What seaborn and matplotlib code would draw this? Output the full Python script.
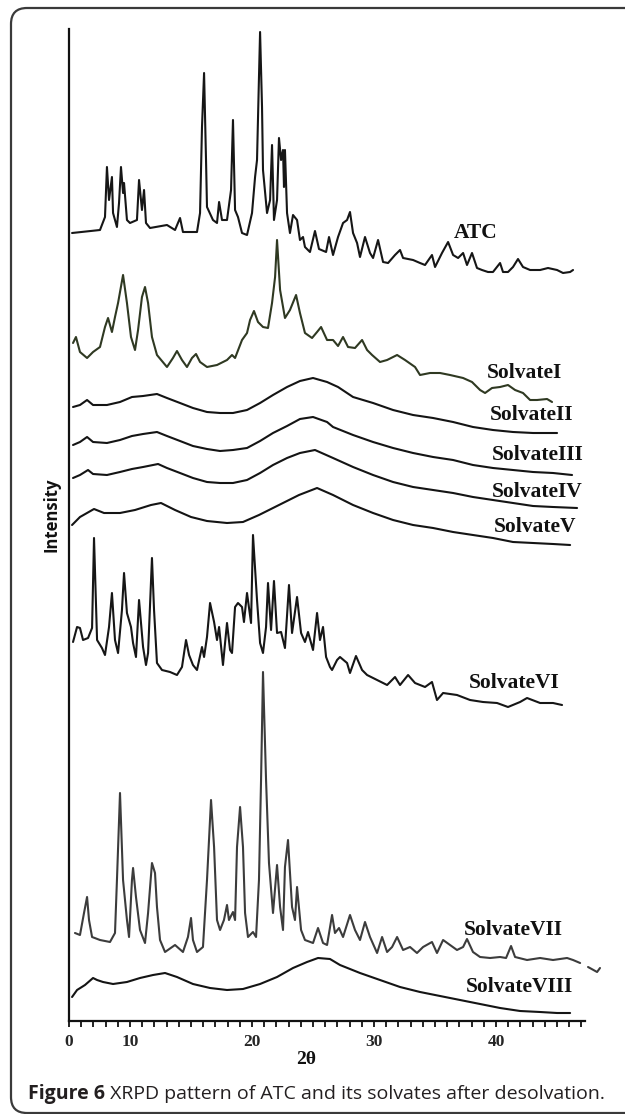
import numpy as np
import pandas as pd
import matplotlib.pyplot as plt
import seaborn as sns
from matplotlib.patches import FancyBboxPatch
from matplotlib.ticker import FixedLocator
from matplotlib.transforms import IdentityTransform


# XRPD traces: 2-theta (deg) and intensity (a.u.)
ATC_THETA = [5.25, 7.54, 7.95, 8.11, 8.28, 8.52, 8.61, 8.93, 9.10, 9.26,
             9.43, 9.51, 9.75, 10.0, 10.57, 10.74, 10.98, 11.15, 11.31, 11.64,
             13.03, 13.69, 14.10, 14.34, 15.49, 15.74, 15.90, 16.07, 16.23, 16.31,
             16.80, 17.13, 17.30, 17.54, 17.95, 18.28, 18.44, 18.61, 18.85, 19.18,
             19.59, 20.0, 20.25, 20.41, 20.57, 20.66, 20.82, 20.90, 21.23, 21.48,
             21.64, 21.80, 22.05, 22.21, 22.38, 22.54, 22.62, 22.70, 22.87, 23.11,
             23.36, 23.69, 23.93, 24.18, 24.34, 24.75, 25.16, 25.49, 26.07, 26.31,
             26.64, 27.05, 27.46, 27.79, 28.03, 28.28, 28.61, 28.85, 29.26, 29.67,
             29.92, 30.33, 30.74, 31.15, 31.72, 32.13, 32.38, 33.20, 33.77, 34.18,
             34.75, 35.0, 35.57, 36.07, 36.48, 36.89, 37.30, 37.62, 38.03, 38.44,
             38.85, 39.34, 39.75, 40.33, 40.57, 40.98, 41.39, 41.80, 42.21, 42.79,
             43.61, 44.26, 45.0, 45.49, 46.07, 46.31]
ATC_INT = [42, 45, 58, 108, 75, 98, 62, 48, 72, 108,
           82, 92, 55, 52, 55, 95, 65, 85, 52, 47,
           50, 45, 57, 43, 43, 62, 148, 202, 115, 68,
           55, 52, 73, 55, 55, 85, 155, 65, 58, 42,
           40, 62, 98, 115, 198, 243, 168, 105, 62, 75,
           130, 55, 75, 137, 115, 125, 88, 125, 62, 42,
           60, 55, 35, 38, 28, 23, 44, 26, 23, 38,
           20, 38, 52, 55, 63, 42, 32, 18, 38, 22,
           17, 35, 13, 12, 20, 25, 17, 15, 12, 10,
           20, 8, 22, 33, 20, 17, 22, 10, 22, 7,
           5, 3, 3, 12, 3, 3, 8, 16, 8, 5,
           5, 7, 5, 2, 3, 5]

S1_THETA = [5.33, 5.57, 5.90, 6.48, 6.97, 7.54, 7.95, 8.20, 8.52, 8.77,
            9.02, 9.43, 9.75, 10.08, 10.41, 10.66, 10.98, 11.23, 11.48, 11.80,
            12.21, 13.03, 13.52, 13.85, 14.26, 14.67, 15.08, 15.41, 15.74, 16.31,
            17.13, 17.95, 18.36, 18.61, 19.18, 19.59, 19.84, 20.16, 20.49, 20.90,
            21.31, 21.64, 21.89, 22.05, 22.30, 22.70, 23.11, 23.61, 23.93, 24.34,
            24.92, 25.33, 25.66, 26.15, 26.64, 27.05, 27.46, 27.87, 28.44, 29.02,
            29.43, 29.84, 30.49, 31.07, 31.89, 32.54, 33.36, 33.77, 34.59, 35.41,
            36.23, 37.30, 38.03, 38.69, 39.10, 39.67, 40.33, 40.98, 41.56, 42.21,
            42.79, 43.36, 44.18, 44.59]
S1_INT = [62, 68, 53, 47, 53, 58, 78, 87, 73, 88,
          102, 130, 102, 68, 55, 75, 108, 118, 102, 68,
          50, 38, 47, 54, 45, 38, 47, 51, 43, 38,
          40, 45, 50, 47, 65, 72, 85, 94, 83, 78,
          77, 102, 128, 165, 115, 87, 95, 110, 92, 72,
          67, 73, 78, 65, 65, 59, 68, 58, 57, 65,
          55, 50, 43, 45, 50, 45, 38, 30, 32, 32,
          30, 27, 23, 15, 12, 17, 18, 20, 15, 12,
          5, 5, 6, 3]

S2_THETA = [5.33, 5.90, 6.48, 6.97, 8.11, 9.18, 10.16, 11.07, 12.21, 13.03,
            14.10, 15.16, 16.31, 17.38, 18.44, 19.59, 20.66, 21.72, 22.87, 23.93,
            25.0, 26.15, 27.05, 28.28, 29.92, 31.56, 33.20, 34.84, 36.48, 38.11,
            39.75, 41.39, 43.03, 45.0]
S2_INT = [28, 30, 35, 30, 30, 33, 38, 39, 41, 37,
          32, 27, 23, 22, 22, 25, 32, 40, 48, 54,
          57, 53, 48, 38, 32, 25, 20, 17, 13, 8,
          5, 3, 2, 2]

S3_THETA = [5.33, 5.90, 6.48, 6.97, 8.11, 9.18, 10.16, 11.07, 12.21, 13.03,
            14.10, 15.16, 16.31, 17.38, 18.44, 19.59, 20.66, 21.72, 22.87, 23.93,
            25.0, 26.15, 26.64, 28.28, 29.92, 31.56, 33.20, 34.84, 36.48, 38.11,
            39.75, 41.39, 43.03, 44.67, 46.23]
S3_INT = [32, 35, 40, 35, 34, 37, 41, 43, 45, 41,
          36, 31, 28, 26, 27, 29, 36, 44, 51, 58,
          60, 55, 50, 42, 35, 29, 24, 20, 17, 12,
          9, 7, 5, 4, 2]

S4_THETA = [5.33, 5.90, 6.56, 6.97, 8.11, 9.18, 10.16, 11.07, 12.30, 13.03,
            14.10, 15.16, 16.31, 17.38, 18.44, 19.59, 20.66, 21.72, 22.87, 23.93,
            25.16, 26.64, 28.28, 29.92, 31.56, 33.20, 34.84, 36.48, 38.11, 39.75,
            41.39, 43.03, 44.67, 46.64]
S4_INT = [32, 35, 40, 36, 35, 38, 41, 43, 46, 42,
          37, 32, 28, 27, 27, 30, 37, 45, 52, 57,
          60, 52, 43, 35, 28, 23, 20, 17, 13, 10,
          7, 4, 3, 2]

S5_THETA = [5.25, 5.90, 7.05, 7.87, 9.18, 10.41, 11.72, 12.54, 13.69, 15.0,
            16.31, 17.95, 19.26, 20.57, 22.21, 23.85, 25.33, 26.64, 28.28, 29.92,
            31.56, 33.20, 34.84, 36.48, 38.11, 39.75, 41.39, 43.03, 44.67, 46.07]
S5_INT = [22, 30, 38, 34, 34, 37, 42, 44, 37, 30,
          26, 24, 25, 32, 42, 52, 59, 52, 42, 34,
          27, 22, 19, 15, 12, 9, 5, 4, 3, 2]

S6_THETA = [5.33, 5.66, 5.90, 6.15, 6.56, 6.89, 7.05, 7.30, 7.70, 7.95,
            8.28, 8.52, 8.77, 9.02, 9.34, 9.51, 9.75, 10.08, 10.25, 10.49,
            10.74, 11.07, 11.31, 11.48, 11.80, 11.97, 12.21, 12.62, 13.28, 13.85,
            14.26, 14.59, 14.84, 15.16, 15.49, 15.90, 16.07, 16.31, 16.56, 16.89,
            17.13, 17.30, 17.62, 17.79, 17.95, 18.20, 18.36, 18.61, 18.85, 19.18,
            19.34, 19.59, 19.92, 20.08, 20.41, 20.66, 20.90, 21.15, 21.31, 21.56,
            21.80, 22.05, 22.38, 22.70, 23.03, 23.28, 23.69, 24.02, 24.34, 24.59,
            25.0, 25.33, 25.57, 25.82, 26.07, 26.39, 26.56, 26.97, 27.21, 27.79,
            28.03, 28.52, 29.02, 29.43, 30.25, 31.07, 31.72, 32.13, 32.79, 33.36,
            34.18, 34.75, 35.16, 35.66, 36.80, 37.87, 38.93, 40.08, 40.98, 41.97,
            42.54, 43.61, 44.67, 45.41]
S6_INT = [68, 83, 82, 70, 72, 82, 172, 70, 62, 55,
          83, 117, 70, 57, 100, 137, 97, 83, 67, 53,
          110, 63, 45, 57, 152, 100, 47, 40, 38, 35,
          43, 70, 55, 45, 40, 63, 53, 73, 107, 88,
          70, 83, 45, 67, 87, 60, 57, 103, 107, 103,
          88, 117, 87, 175, 110, 67, 57, 83, 127, 80,
          129, 77, 78, 62, 125, 77, 113, 77, 68, 78,
          60, 97, 70, 83, 53, 43, 40, 50, 53, 47,
          37, 54, 40, 35, 30, 25, 33, 25, 35, 27,
          23, 28, 10, 17, 15, 10, 8, 7, 3, 8,
          12, 7, 7, 5]

S7_THETA = [5.49, 5.90, 6.23, 6.48, 6.64, 6.89, 7.54, 8.36, 8.77, 8.93,
            9.18, 9.43, 9.51, 9.75, 9.92, 10.16, 10.25, 10.49, 10.82, 11.23,
            11.48, 11.80, 12.05, 12.21, 12.46, 12.87, 13.69, 14.34, 14.75, 15.0,
            15.16, 15.49, 15.98, 16.31, 16.64, 16.89, 17.13, 17.38, 17.70, 17.95,
            18.11, 18.44, 18.61, 18.77, 19.02, 19.26, 19.43, 19.67, 20.08, 20.33,
            20.57, 20.74, 20.90, 21.15, 21.39, 21.72, 22.05, 22.30, 22.54, 22.70,
            22.95, 23.28, 23.52, 23.69, 24.02, 24.34, 25.0, 25.41, 25.82, 26.15,
            26.56, 26.80, 27.13, 27.46, 28.03, 28.44, 28.85, 29.26, 29.67, 30.25,
            30.66, 31.07, 31.48, 31.89, 32.38, 32.95, 33.52, 34.02, 34.75, 35.16,
            35.66, 36.23, 36.80, 37.30, 37.62, 38.11, 38.69, 39.51, 40.33, 40.82,
            41.23, 41.56, 42.54, 43.61, 44.67, 45.82, 46.31, 46.89, np.nan, 47.54,
            48.28, 48.52]
S7_INT = [42, 40, 62, 78, 55, 38, 35, 33, 42, 95,
          182, 95, 85, 55, 38, 95, 107, 78, 45, 32,
          62, 112, 102, 68, 35, 23, 30, 23, 38, 57,
          35, 23, 28, 95, 175, 128, 55, 45, 55, 70,
          55, 63, 55, 128, 168, 128, 62, 38, 43, 38,
          95, 195, 303, 195, 112, 62, 110, 68, 45, 108,
          135, 68, 55, 88, 45, 35, 32, 47, 32, 30,
          60, 42, 47, 38, 60, 45, 35, 53, 38, 22,
          38, 23, 28, 38, 25, 28, 22, 28, 33, 22,
          35, 30, 25, 28, 36, 23, 18, 17, 18, 17,
          29, 18, 15, 17, 15, 17, 15, 12, np.nan, 8,
          3, 7]

S8_THETA = [5.25, 5.66, 6.31, 6.97, 7.30, 7.79, 8.61, 9.75, 10.82, 11.89,
            12.87, 13.85, 15.16, 16.56, 17.95, 19.26, 20.66, 22.05, 23.36, 24.51,
            25.41, 26.39, 27.21, 28.85, 30.49, 32.13, 33.77, 35.41, 37.05, 38.69,
            40.33, 41.97, 43.61, 45.0, 46.07]
S8_INT = [18, 25, 30, 37, 35, 33, 31, 33, 37, 40,
          42, 38, 31, 27, 25, 26, 31, 38, 47, 53,
          57, 56, 50, 42, 35, 28, 23, 19, 15, 11,
          7, 4, 3, 2, 2]

NAMES = ["ATC", "SolvateI", "SolvateII", "SolvateIII", "SolvateIV",
         "SolvateV", "SolvateVI", "SolvateVII", "SolvateVIII"]
OFFSETS = [746, 616, 586, 544, 511, 474, 311, 46, 6]

TICK_POS = [5, 10, 20, 30, 40]
TICK_LABELS = ["0", "10", "20", "30", "40"]

CAPTION_BOLD = "Figure 6"
CAPTION_REST = " XRPD pattern of ATC and its solvates after desolvation."

SERIF = ["Liberation Serif", "DejaVu Serif"]
SANS = ["Open Sans", "DejaVu Sans"]

W, H = 625, 1114


def draw_patterns(ax):

    traces = [
        (ATC_THETA, ATC_INT, "#161616"),
        (S1_THETA, S1_INT, "#2f3922"),
        (S2_THETA, S2_INT, "#141414"),
        (S3_THETA, S3_INT, "#141414"),
        (S4_THETA, S4_INT, "#141414"),
        (S5_THETA, S5_INT, "#141414"),
        (S6_THETA, S6_INT, "#161616"),
        (S7_THETA, S7_INT, "#3c3c3c"),
        (S8_THETA, S8_INT, "#141414"),
    ]

    for (theta, inten, color), off in zip(traces, OFFSETS):
        df = pd.DataFrame({"theta": theta, "intensity": np.array(inten, dtype=float) + off})
        # a missing point marks a break in the scan
        df["part"] = df["theta"].isna().cumsum()
        df = df.dropna()
        for _, part in df.groupby("part"):
            sns.lineplot(
                data=part, x="theta", y="intensity", ax=ax,
                color=color, linewidth=1.5, estimator=None, sort=False
            )

    # trace names, placed at the right end of each pattern
    label_pos = [(38.3, 788), (42.3, 648), (42.9, 606), (43.4, 566), (43.4, 529),
                 (43.2, 494), (41.5, 338), (41.4, 91), (41.9, 34)]
    for name, (x, y) in zip(NAMES, label_pos):
        ax.text(x, y, name, ha="center", va="center", family=SERIF,
                fontweight="bold", fontsize=15.5, color="#111111")


def style_axes(ax):

    ax.set_xlim(5.0, 48.93)
    ax.set_ylim(0, 992)

    for side in ["top", "right"]:
        ax.spines[side].set_visible(False)
    for side in ["left", "bottom"]:
        ax.spines[side].set_color("#111111")
        ax.spines[side].set_linewidth(1.6)
    ax.spines["bottom"].set_bounds(5.0, 47.3)

    ax.set_xticks(TICK_POS)
    ax.set_xticklabels(TICK_LABELS)
    ax.xaxis.set_minor_locator(FixedLocator(list(range(5, 48))))
    ax.set_yticks([])

    ax.tick_params(axis="x", which="both", direction="out", length=4,
                   width=1.3, color="#111111", bottom=True)
    ax.tick_params(axis="x", which="major", pad=5, labelsize=12.5)
    for lab in ax.get_xticklabels():
        lab.set_family(SERIF)
        lab.set_fontweight("bold")

    ax.set_xlabel("")
    ax.set_ylabel("")


sns.set_theme(style="white")
plt.rcParams["font.family"] = SANS

fig = plt.figure(figsize=(W / 100, H / 100), dpi=100)
fig.patch.set_facecolor("white")

ax = fig.add_axes([69 / W, (H - 1021) / H, (605 - 69) / W, (1021 - 29) / H])
ax.set_facecolor("white")
draw_patterns(ax)
style_axes(ax)

fig.text(51 / W, 1 - 515 / H, "Intensity", rotation=90, ha="center", va="center",
         family=SANS, fontweight="bold", fontsize=12, color="#111111")
fig.text(306 / W, 1 - 1060 / H, "2θ", ha="center", va="center",
         family=SERIF, fontweight="bold", fontsize=14, color="#111111")

# caption: bold lead-in followed by regular text
cap_y = 1 - 1094 / H
t1 = fig.text(28 / W, cap_y, CAPTION_BOLD, ha="left", va="center",
              family=SANS, fontweight="bold", fontsize=14, color="#231f20")
renderer = fig.canvas.get_renderer()
bb = t1.get_window_extent(renderer=renderer)
fig.text(bb.x1 / W, cap_y, CAPTION_REST, ha="left", va="center",
         family=SANS, fontsize=14, color="#231f20")

# rounded frame around the figure panel, open at the right edge
frame = FancyBboxPatch((11, 1), 640, 1105,
                       boxstyle="round,pad=0,rounding_size=16",
                       transform=IdentityTransform(), fill=False,
                       edgecolor="#3a3a3a", linewidth=1.6)
fig.add_artist(frame)

fig.savefig("out.png", dpi=100, facecolor="white")
